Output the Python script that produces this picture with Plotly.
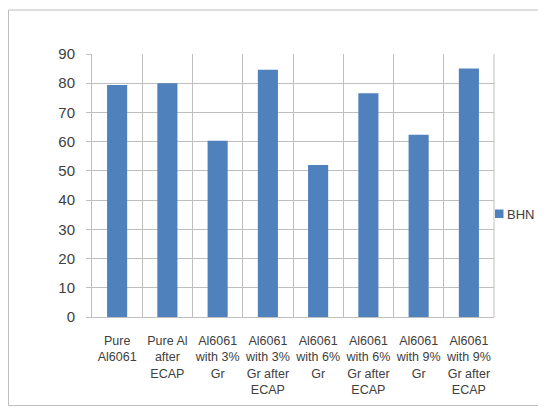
import plotly.graph_objects as go

categories = [
    "Pure<br>Al6061",
    "Pure Al<br>after<br>ECAP",
    "Al6061<br>with 3%<br>Gr",
    "Al6061<br>with 3%<br>Gr after<br>ECAP",
    "Al6061<br>with 6%<br>Gr",
    "Al6061<br>with 6%<br>Gr after<br>ECAP",
    "Al6061<br>with 9%<br>Gr",
    "Al6061<br>with 9%<br>Gr after<br>ECAP",
]
bhn = [79.4, 80.0, 60.3, 84.6, 52.0, 76.6, 62.4, 85.0]
y_ticks = [0, 10, 20, 30, 40, 50, 60, 70, 80, 90]
series_name = "BHN"
bar_color = "#4F81BD"

fig = go.Figure()
fig.add_trace(go.Bar(x=categories, y=bhn, name=series_name, showlegend=False,
                     marker=dict(color=bar_color, line=dict(width=0)), width=0.4))

# page has an 8px body margin; figure coords = page coords - 8
OFF = 8
W, H = 546 - 2 * OFF, 414 - 2 * OFF
L, T = 84, 46
R = W - (494 - OFF)
B = H - (317 - OFF)
pw, ph = W - L - R, H - T - B

def px_x(x):
    return (x - OFF - L) / pw

def px_y(y):
    return (H - B - (y - OFF)) / ph

fig.update_layout(
    width=W, height=H,
    margin=dict(l=L, r=R, t=T, b=B, autoexpand=False),
    paper_bgcolor="white", plot_bgcolor="white",
    font=dict(family="Liberation Sans Narrow, Liberation Sans, sans-serif", color="#404040"),
    showlegend=False,
    bargap=0.6,
    xaxis=dict(type="category", tickson="boundaries", showgrid=True, gridcolor="#BFBFBF", gridwidth=1,
               showline=True, linecolor="#BFBFBF", ticks="", tickangle=0, automargin=False,
               ticklabelstandoff=12,
               tickfont=dict(size=12.5, color="#404040"), mirror=False),
    yaxis=dict(range=[0, 90], tickvals=y_ticks, showgrid=True, gridcolor="#BFBFBF", gridwidth=1,
               showline=True, linecolor="#BFBFBF", ticks="outside", ticklen=5, tickcolor="#BFBFBF",
               ticklabelstandoff=8,
               automargin=False, tickfont=dict(size=15, color="#404040"), zeroline=False),
    shapes=[
        dict(type="rect", xref="paper", yref="paper",
             x0=px_x(8.5), x1=px_x(570), y0=px_y(405.5), y1=px_y(10),
             line=dict(color="#BFBFBF", width=1), fillcolor="rgba(0,0,0,0)", layer="below"),
        dict(type="line", xref="paper", yref="paper", x0=1, x1=1, y0=0, y1=1,
             line=dict(color="#BFBFBF", width=1)),
        # legend key
        dict(type="rect", xref="paper", yref="paper",
             x0=px_x(495), x1=px_x(503.5), y0=px_y(218), y1=px_y(209.5),
             line=dict(width=0), fillcolor=bar_color),
    ],
    annotations=[
        dict(text=series_name, xref="paper", yref="paper", x=px_x(506), y=px_y(214),
             xanchor="left", yanchor="middle", showarrow=False, borderpad=0,
             font=dict(size=13, color="#404040")),
    ],
)

fig.write_html("out.html")
